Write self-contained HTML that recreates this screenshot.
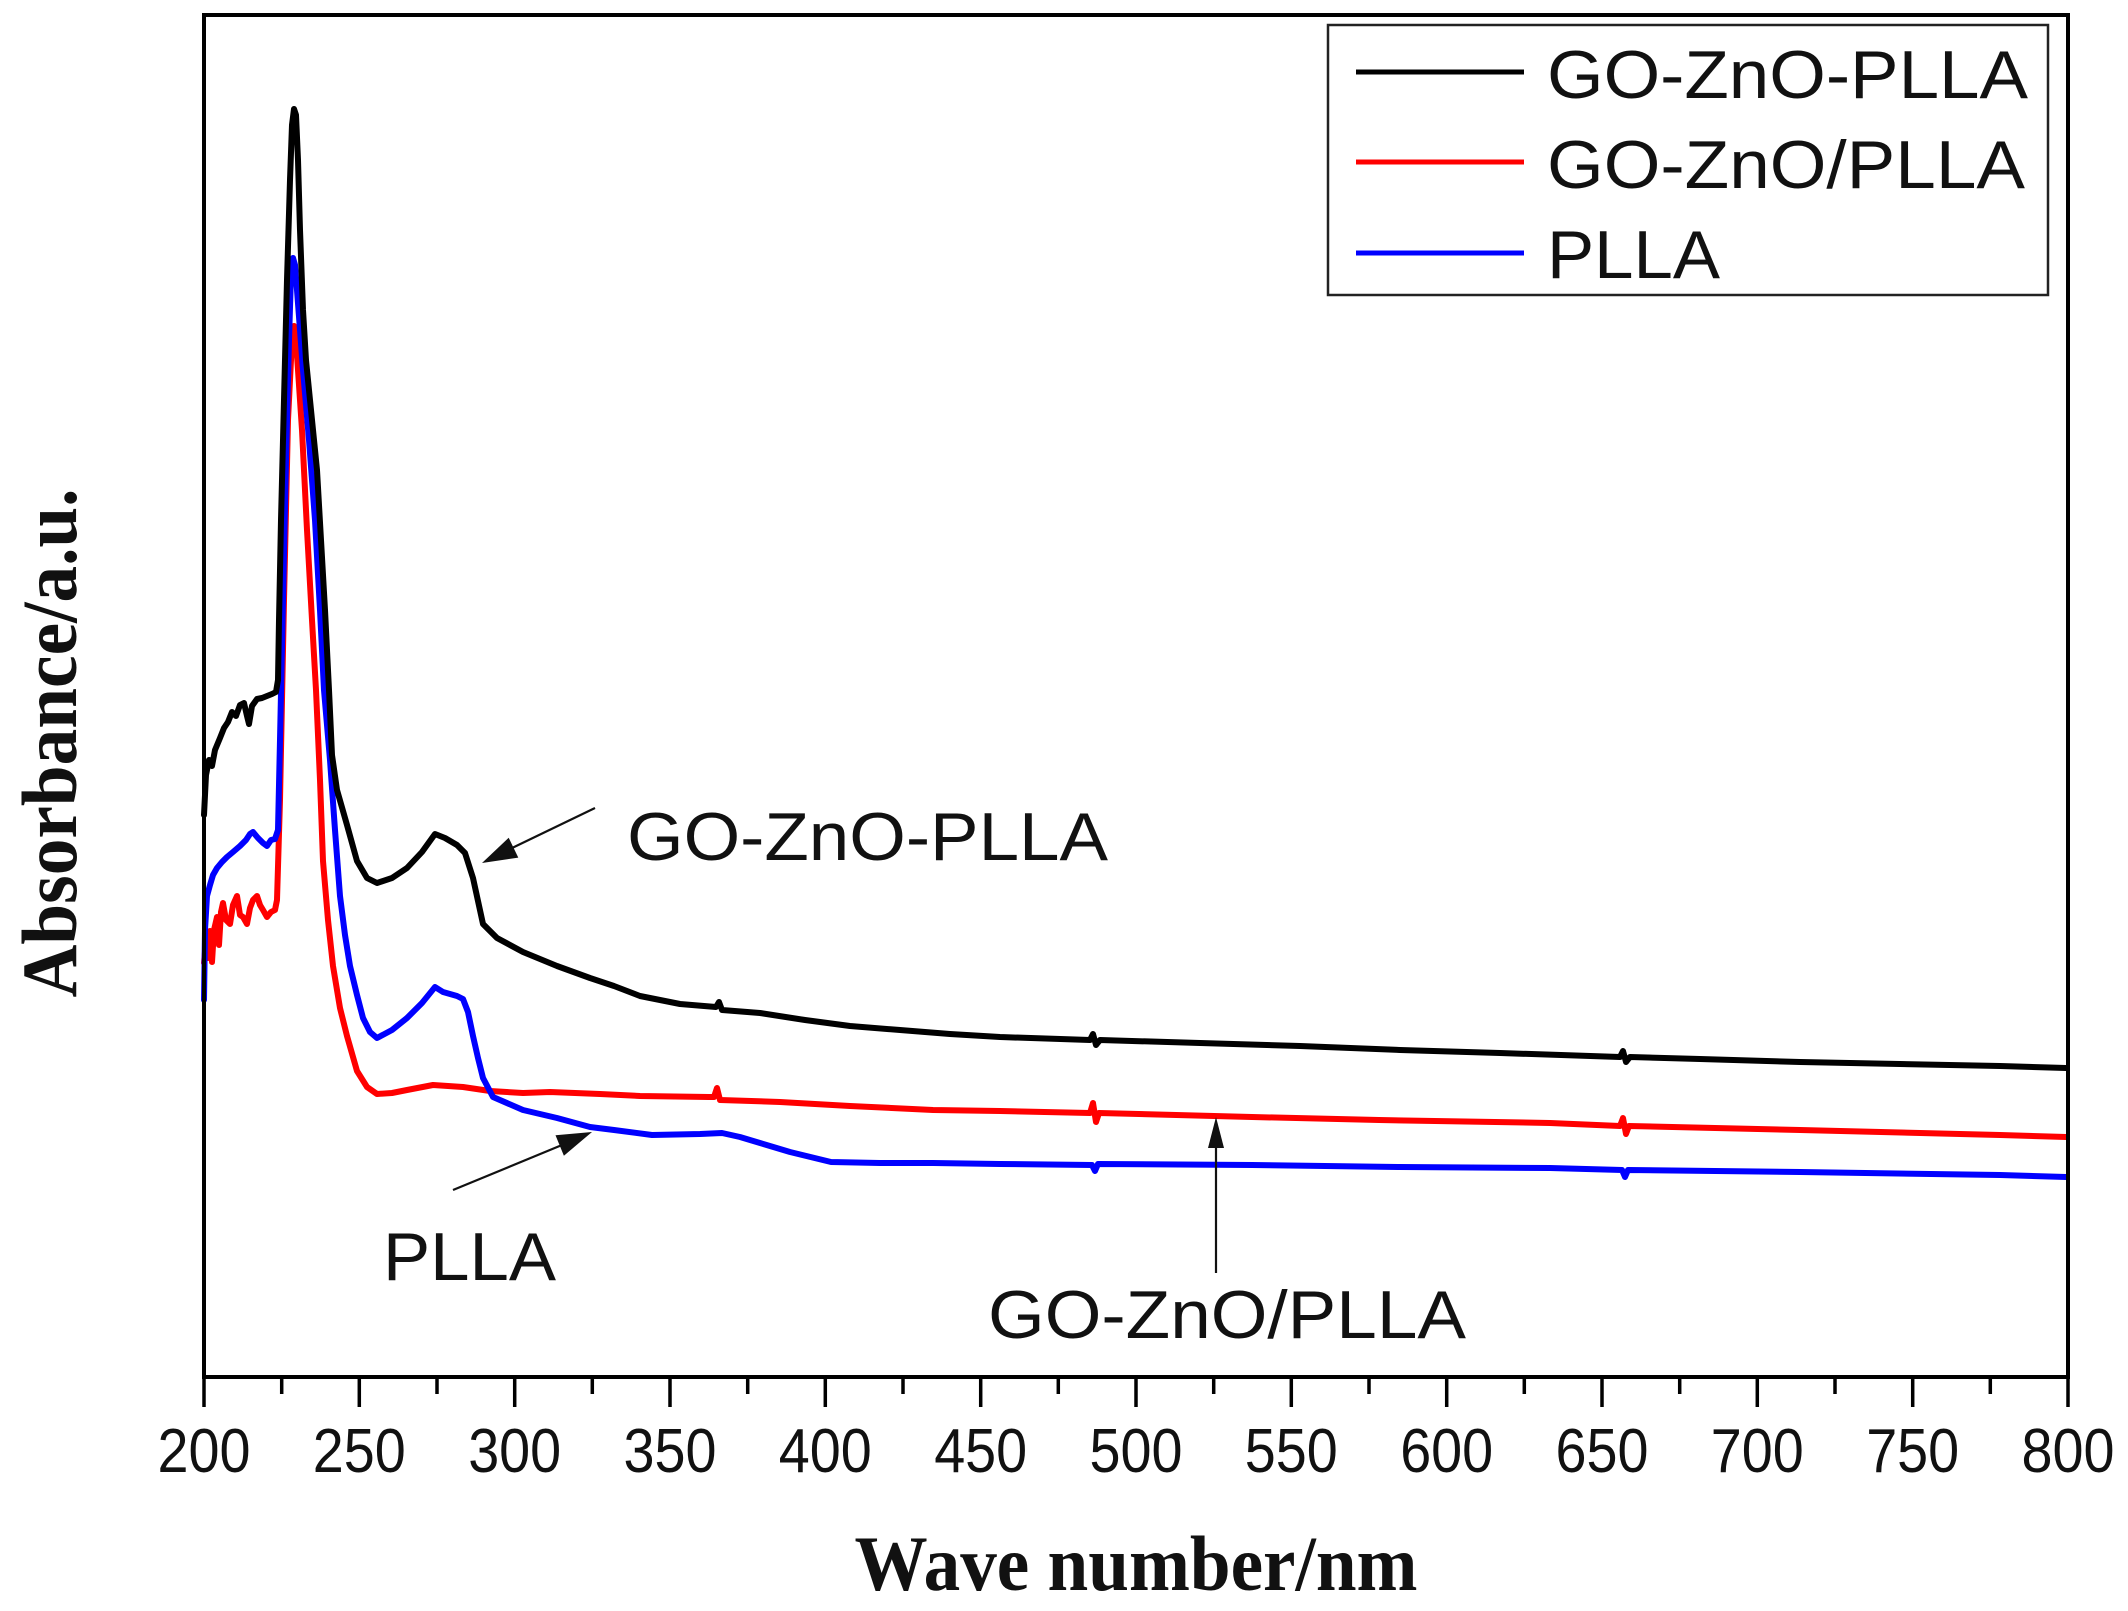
<!DOCTYPE html>
<html>
<head>
<meta charset="utf-8">
<style>
html,body{margin:0;padding:0;background:#fff;}
svg{display:block;}
</style>
</head>
<body>
<svg width="2128" height="1611" viewBox="0 0 2128 1611" xmlns="http://www.w3.org/2000/svg">
<rect x="0" y="0" width="2128" height="1611" fill="#fff"/>

<!-- curves -->
<g fill="none" stroke-width="6" stroke-linejoin="round" stroke-linecap="round">
<path stroke="#ff0000" d="M204,963 L206,940 L208,958 L210,931 L212,962 L214,930 L217,917 L219,945 L221,912 L223,903 L226,920 L230,924 L233,905 L237,896 L240,915 L243,917 L247,924 L250,908 L253,900 L257,896 L260,905 L263,910 L267,917 L271,912 L275,910 L277,900 L280,800 L284,600 L288,420 L292,340 L294,326 L296,340 L302,430 L307,530 L312,620 L316,690 L320,780 L323,861 L328,920 L333,966 L340,1008 L347,1036 L357,1071 L367,1087 L377,1094 L392,1093 L407,1090 L433,1085 L463,1087 L490,1091 L523,1093 L550,1092 L600,1094 L640,1096 L709,1097 L714,1097 L717,1088 L720,1100 L780,1102 L850,1106 L933,1110 L1000,1111 L1090,1113 L1093,1103 L1096,1122 L1099,1113 L1252,1117 L1379,1120 L1550,1123 L1620,1126 L1623,1118 L1626,1134 L1629,1126 L1800,1130 L2000,1135 L2066,1137"/>
<path stroke="#0000ff" d="M204,1000 L205,930 L207,896 L210,885 L213,875 L217,868 L222,862 L227,857 L233,852 L240,846 L246,840 L250,834 L253,832 L258,838 L263,843 L267,846 L271,840 L275,839 L278,830 L280,740 L283,600 L286,460 L289,340 L291,275 L293,258 L295,265 L297,290 L300,330 L303,370 L309,440 L315,520 L320,610 L324,690 L330,760 L335,830 L340,896 L345,935 L350,966 L357,995 L363,1018 L370,1032 L377,1038 L392,1030 L407,1018 L422,1003 L435,987 L443,992 L457,996 L463,999 L468,1012 L473,1036 L478,1058 L483,1078 L493,1097 L523,1110 L557,1118 L590,1127 L614,1130 L652,1135 L700,1134 L722,1133 L740,1137 L760,1143 L790,1152 L831,1162 L880,1163 L933,1163 L1000,1164 L1092,1165 L1095,1171 L1098,1164 L1252,1165 L1400,1167 L1550,1168 L1622,1170 L1625,1177 L1628,1170 L1800,1172 L2000,1175 L2066,1177"/>
<path stroke="#000000" d="M204,815 L206,775 L209,760 L212,766 L215,750 L220,738 L224,728 L228,722 L232,712 L236,716 L240,705 L244,703 L247,716 L249,724 L252,706 L257,699 L262,698 L267,696 L272,694 L276,692 L278,680 L279,620 L281,520 L284,400 L287,280 L290,180 L292,125 L294,109 L296,115 L298,160 L300,230 L303,310 L306,360 L310,400 L313,430 L317,470 L321,540 L325,610 L329,690 L332,755 L337,790 L347,825 L357,861 L367,878 L377,883 L392,878 L407,868 L422,852 L435,834 L445,838 L457,845 L465,853 L473,878 L483,924 L497,938 L523,952 L557,966 L590,978 L614,986 L640,996 L680,1004 L716,1007 L719,1002 L722,1010 L760,1013 L805,1020 L850,1026 L900,1030 L950,1034 L1000,1037 L1090,1040 L1093,1034 L1096,1045 L1100,1040 L1200,1043 L1300,1046 L1400,1050 L1500,1053 L1620,1057 L1623,1051 L1626,1062 L1630,1057 L1700,1059 L1800,1062 L1900,1064 L2000,1066 L2066,1068"/>
</g>

<!-- frame -->
<rect x="204" y="15" width="1864" height="1362" fill="none" stroke="#000" stroke-width="4"/>

<!-- ticks -->
<g stroke="#000" stroke-width="3.5">
<line x1="204" y1="1377" x2="204" y2="1407"/>
<line x1="359.3" y1="1377" x2="359.3" y2="1407"/>
<line x1="514.7" y1="1377" x2="514.7" y2="1407"/>
<line x1="670" y1="1377" x2="670" y2="1407"/>
<line x1="825.3" y1="1377" x2="825.3" y2="1407"/>
<line x1="980.7" y1="1377" x2="980.7" y2="1407"/>
<line x1="1136" y1="1377" x2="1136" y2="1407"/>
<line x1="1291.3" y1="1377" x2="1291.3" y2="1407"/>
<line x1="1446.7" y1="1377" x2="1446.7" y2="1407"/>
<line x1="1602" y1="1377" x2="1602" y2="1407"/>
<line x1="1757.3" y1="1377" x2="1757.3" y2="1407"/>
<line x1="1912.7" y1="1377" x2="1912.7" y2="1407"/>
<line x1="2068" y1="1377" x2="2068" y2="1407"/>
<line x1="281.7" y1="1377" x2="281.7" y2="1394"/>
<line x1="437" y1="1377" x2="437" y2="1394"/>
<line x1="592.3" y1="1377" x2="592.3" y2="1394"/>
<line x1="747.7" y1="1377" x2="747.7" y2="1394"/>
<line x1="903" y1="1377" x2="903" y2="1394"/>
<line x1="1058.3" y1="1377" x2="1058.3" y2="1394"/>
<line x1="1213.7" y1="1377" x2="1213.7" y2="1394"/>
<line x1="1369" y1="1377" x2="1369" y2="1394"/>
<line x1="1524.3" y1="1377" x2="1524.3" y2="1394"/>
<line x1="1679.7" y1="1377" x2="1679.7" y2="1394"/>
<line x1="1835" y1="1377" x2="1835" y2="1394"/>
<line x1="1990.3" y1="1377" x2="1990.3" y2="1394"/>
</g>

<!-- tick labels -->
<g font-family="Liberation Sans, Arial, sans-serif" font-size="62" fill="#111" text-anchor="middle">
<text x="204" y="1472" textLength="93" lengthAdjust="spacingAndGlyphs">200</text>
<text x="359.3" y="1472" textLength="93" lengthAdjust="spacingAndGlyphs">250</text>
<text x="514.7" y="1472" textLength="93" lengthAdjust="spacingAndGlyphs">300</text>
<text x="670" y="1472" textLength="93" lengthAdjust="spacingAndGlyphs">350</text>
<text x="825.3" y="1472" textLength="93" lengthAdjust="spacingAndGlyphs">400</text>
<text x="980.7" y="1472" textLength="93" lengthAdjust="spacingAndGlyphs">450</text>
<text x="1136" y="1472" textLength="93" lengthAdjust="spacingAndGlyphs">500</text>
<text x="1291.3" y="1472" textLength="93" lengthAdjust="spacingAndGlyphs">550</text>
<text x="1446.7" y="1472" textLength="93" lengthAdjust="spacingAndGlyphs">600</text>
<text x="1602" y="1472" textLength="93" lengthAdjust="spacingAndGlyphs">650</text>
<text x="1757.3" y="1472" textLength="93" lengthAdjust="spacingAndGlyphs">700</text>
<text x="1912.7" y="1472" textLength="93" lengthAdjust="spacingAndGlyphs">750</text>
<text x="2068" y="1472" textLength="93" lengthAdjust="spacingAndGlyphs">800</text>
</g>

<!-- axis titles -->
<text x="1136" y="1590" font-family="Liberation Serif, 'Times New Roman', serif" font-weight="bold" font-size="78" fill="#111" text-anchor="middle" textLength="563" lengthAdjust="spacingAndGlyphs">Wave number/nm</text>
<text transform="translate(76,743) rotate(-90)" x="0" y="0" font-family="Liberation Serif, 'Times New Roman', serif" font-weight="bold" font-size="78" fill="#111" text-anchor="middle" textLength="509" lengthAdjust="spacingAndGlyphs">Absorbance/a.u.</text>

<!-- legend -->
<rect x="1328" y="25" width="720" height="270" fill="#fff" stroke="#222" stroke-width="2.5"/>
<g stroke-width="5">
<line x1="1356" y1="72" x2="1524" y2="72" stroke="#000"/>
<line x1="1356" y1="162" x2="1524" y2="162" stroke="#ff0000"/>
<line x1="1356" y1="253" x2="1524" y2="253" stroke="#0000ff"/>
</g>
<g font-family="Liberation Sans, Arial, sans-serif" font-size="68" fill="#111">
<text x="1547" y="98" textLength="481" lengthAdjust="spacingAndGlyphs">GO-ZnO-PLLA</text>
<text x="1547" y="188" textLength="478" lengthAdjust="spacingAndGlyphs">GO-ZnO/PLLA</text>
<text x="1547" y="278" textLength="173" lengthAdjust="spacingAndGlyphs">PLLA</text>
</g>

<!-- annotations -->
<g font-family="Liberation Sans, Arial, sans-serif" font-size="68" fill="#111">
<text x="627" y="860" textLength="481" lengthAdjust="spacingAndGlyphs">GO-ZnO-PLLA</text>
<text x="383" y="1280" textLength="173" lengthAdjust="spacingAndGlyphs">PLLA</text>
<text x="988" y="1338" textLength="478" lengthAdjust="spacingAndGlyphs">GO-ZnO/PLLA</text>
</g>

<!-- arrows -->
<g stroke="#111" stroke-width="2.2" fill="none">
<line x1="595" y1="808" x2="510" y2="849"/>
<line x1="453" y1="1190" x2="562" y2="1145"/>
<line x1="1216" y1="1273" x2="1216" y2="1145"/>
</g>
<g fill="#111">
<polygon points="482,863 518.3,857.6 508.7,837.8"/>
<polygon points="592,1132 563.9,1155.7 555.5,1135.3"/>
<polygon points="1216,1117 1208,1148 1224,1148"/>
</g>
</svg>
</body>
</html>
